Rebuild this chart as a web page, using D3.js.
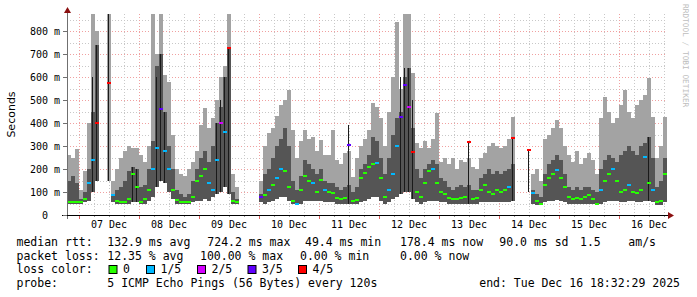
<!DOCTYPE html>
<html>
<head>
<meta charset="utf-8">
<script src="https://cdn.jsdelivr.net/npm/d3@7"></script>
<style>
  body { margin: 0; background: #fff; }
  text { font-family: "DejaVu Sans Mono", monospace; fill: #000; }
</style>
</head>
<body>
<svg id="chart" width="697" height="297"></svg>
<script>
// one column = 96 minutes, first column starts Dec 6 19:12 (UTC used as local clock)
// rows: Dec 6 (3 cols), Dec 7 .. Dec 15 (15 cols each), Dec 16 (12 cols); null = no data
const lo = [
  50, 50, 50,
  50, 55, 60, 100, 150, null, null, 150, 55, 50, 50, 50, 50, 55, 55,
  50, 50, 60, 80, 120, 150, 140, 100, 70, 50, 50, 50, 50, 55, 60,
  60, 70, 60, 80, 90, 100, 120, 90, 50, 50, null, null, null, null, null,
  55, 50, 55, 60, 70, 80, 80, 60, 50, 45, 50, 60, 60, 60, 60,
  60, 55, 55, 55, 50, 50, 50, 50, 50, 50, 55, 60, 70, 80, 80,
  60, 50, 55, 70, 80, 90, 100, 100, 70, 55, 50, 55, 60, 60, 60,
  55, 55, 50, 50, 50, 50, 50, 50, 50, 50, 55, 55, 55, 55, 55,
  55, 55, 55, 60, null, null, null, 100, 50, 45, 45, 55, 60, 60, 65,
  60, 55, 50, 50, 50, 50, 50, 50, 50, 45, 50, 55, 60, 60, 60,
  55, 55, 60, 60, 55, 55, 60, 60, 55, 45, 45, 55
];
// top of the dark smoke band (ms)
const dk = [
  150, 170, 140,
  70, 100, 200, 450, 740, null, null, 150, 90, 110, 120, 150, 190, 210, 200,
  120, 130, 200, 320, 650, 700, 450, 300, 200, 110, 90, 80, 90, 150, 200,
  250, 280, 230, 300, 400, 470, 600, 725, 100, 70, null, null, null, null, null,
  90, 180, 200, 250, 300, 330, 380, 300, 150, 110, 170, 240, 220, 200, 180,
  200, 150, 140, 140, 120, 110, 120, 130, 100, 120, 200, 220, 260, 340, 320,
  250, 180, 250, 350, 420, 450, 600, 640, 380, 200, 160, 200, 220, 240, 220,
  160, 150, 120, 110, 120, 130, 120, 130, 110, 110, 160, 180, 200, 180, 190,
  180, 190, 200, 220, null, null, null, 100, 110, 90, 80, 180, 220, 240, 260,
  240, 180, 120, 110, 120, 110, 120, 120, 110, 100, 200, 240, 260, 250, 230,
  260, 280, 300, 280, 260, 300, 313, 340, 250, 120, 150, 250
];
// top of the light smoke band (ms)
const hi = [
  260, 250, 285,
  110, 190, 400, 875, 800, null, null, 875, 150, 200, 250, 280, 300, 290, 290,
  260, 230, 300, 875, 700, 875, 610, 580, 350, 200, 180, 170, 200, 230, 280,
  390, 465, 380, 420, 500, 600, 650, 875, 180, 120, null, null, null, null, null,
  150, 300, 357, 380, 430, 480, 500, 545, 370, 250, 320, 370, 330, 340, 280,
  326, 260, 260, 370, 240, 220, 270, 280, 165, 250, 300, 330, 370, 487, 470,
  420, 300, 450, 600, 840, 550, 875, 875, 617, 313, 290, 320, 290, 330, 443,
  230, 250, 220, 250, 200, 240, 230, 250, 210, 200, 250, 270, 300, 313, 300,
  290, 300, 330, 426, null, null, null, 100, 180, 200, 150, 330, 350, 380, 413,
  380, 300, 260, 230, 280, 220, 250, 270, 240, 180, 420, 513, 450, 400, 420,
  480, 543, 450, 420, 480, 500, 520, 596, 426, 250, 300, 426
];
// median rtt (ms)
const med = [
  55, 55, 58,
  55, 70, 140, 240, 400, null, null, 575, 85, 60, 55, 55, 70, 180, 120,
  55, 70, 110, 200, 290, 460, 280, 200, 110, 65, 55, 55, 55, 80, 150,
  170, 200, 140, 110, 240, 400, 360, 725, 60, 55, null, null, null, null, null,
  80, 85, 110, 130, 160, 200, 190, 120, 60, 50, 110, 170, 150, 140, 100,
  152, 110, 100, 95, 74, 68, 72, 304, 60, 65, 160, 182, 209, 220, 225,
  160, 80, 110, 180, 300, 426, 565, 470, 274, 100, 80, 140, 190, 200, 140,
  100, 90, 75, 70, 68, 75, 80, 317, 70, 75, 110, 130, 100, 90, 110,
  100, 110, 120, 335, null, null, null, 283, 96, 60, 50, 130, 160, 180, 195,
  160, 122, 80, 70, 75, 70, 80, 85, 70, 50, 110, 150, 180, 200, 150,
  100, 110, 130, 100, 95, 110, 252, 140, 110, 55, 60, 180
];
// lost pings out of 5
const loss = [
  0, 0, 0,
  0, 0, 1, 1, 4, null, null, 4, 1, 0, 0, 0, 0, 0, 0,
  0, 0, 0, 1, 1, 3, 1, 1, 0, 0, 0, 0, 0, 0, 0,
  0, 0, 1, 1, 1, 2, 1, 4, 0, 0, null, null, null, null, null,
  3, 0, 1, 0, 1, 1, 0, 0, 0, 1, 0, 0, 0, 1, 0,
  0, 1, 0, 0, 0, 0, 0, 3, 0, 0, 0, 0, 0, 0, 1,
  0, 0, 1, 1, 1, 3, 3, 2, 4, 0, 0, 0, 0, 1, 0,
  0, 0, 0, 0, 0, 0, 0, 4, 0, 0, 0, 0, 0, 0, 0,
  0, 0, 1, 4, null, null, null, 4, 1, 0, 0, 0, 0, 0, 1,
  0, 0, 0, 0, 0, 0, 0, 0, 0, 0, 1, 0, 0, 1, 0,
  0, 0, 1, 0, 0, 0, 1, 0, 1, 0, 0, 0
];
// top of the black streak (0 = none)
const core = [
  0, 0, 0,
  0, 0, 0, 600, 740, 0, 0, 875, 0, 0, 0, 0, 0, 210, 200,
  0, 0, 0, 0, 600, 700, 450, 0, 0, 0, 0, 0, 0, 0, 0,
  0, 0, 0, 0, 400, 500, 600, 725, 0, 0, 0, 0, 0, 0, 0,
  0, 0, 0, 0, 0, 0, 0, 0, 0, 0, 0, 0, 0, 0, 0,
  0, 0, 0, 0, 0, 0, 0, 390, 0, 0, 0, 0, 0, 0, 0,
  0, 0, 0, 0, 0, 600, 640, 640, 500, 0, 0, 0, 0, 0, 0,
  0, 0, 0, 0, 0, 0, 0, 317, 0, 0, 0, 0, 0, 0, 0,
  0, 0, 0, 335, 0, 0, 0, 283, 0, 0, 0, 0, 0, 0, 0,
  0, 0, 0, 0, 0, 0, 0, 0, 0, 0, 0, 0, 0, 0, 0,
  0, 0, 0, 0, 0, 0, 0, 340, 0, 0, 0, 0
];

const lossLabels = ["0", "1/5", "2/5", "3/5", "4/5"];
const lossColors = ["#26ff00", "#00b8ff", "#d400ff", "#6000ff", "#ff0000"];
const yTicks = [0, 100, 200, 300, 400, 500, 600, 700, 800];
const dayLabels = ["07 Dec", "08 Dec", "09 Dec", "10 Dec", "11 Dec", "12 Dec", "13 Dec", "14 Dec", "15 Dec", "16 Dec"];

const statsRtt = ["132.9 ms avg", "724.2 ms max", "49.4 ms min", "178.4 ms now", "90.0 ms sd", "1.5", "am/s"];
const statsLoss = ["12.35 % avg", "100.00 % max", "0.00 % min", "0.00 % now"];
const probeText = "5 ICMP Echo Pings (56 Bytes) every 120s";
const endText = "end: Tue Dec 16 18:32:29 2025";

const svg = d3.select("#chart");

const t0 = Date.UTC(2025, 11, 6, 19, 12);
const step = 96 * 60 * 1000;
const xScale = d3.scaleUtc()
  .domain([new Date(t0), new Date(t0 + 150 * step)])
  .range([67, 667]);
const yScale = d3.scaleLinear().domain([0, 875]).range([215, 13.75]);

const data = d3.range(lo.length).map(function (i) {
  return { t: new Date(t0 + i * step), lo: lo[i], dk: dk[i], hi: hi[i], med: med[i], loss: loss[i], core: core[i] };
}).filter(d => d.med != null);

const px = v => Math.round(v) + 0.5;

// grid
const grid = svg.append("g").attr("shape-rendering", "crispEdges");
d3.range(50, 851, 50).forEach(function (v) {
  grid.append("line")
    .attr("x1", 67).attr("x2", 667)
    .attr("y1", px(yScale(v))).attr("y2", px(yScale(v)))
    .attr("stroke", v % 100 === 0 ? "#f0a0a0" : "#c8c8c8")
    .attr("stroke-dasharray", "1,2");
});
const gridTimes = d3.utcHour.every(6).range(new Date(t0), new Date(t0 + 150 * step));
gridTimes.forEach(function (t) {
  const major = t.getUTCHours() === 0;
  const gx = px(xScale(t));
  grid.append("line")
    .attr("x1", gx).attr("x2", gx)
    .attr("y1", 14).attr("y2", 215)
    .attr("stroke", major ? "#f0a0a0" : "#c8c8c8")
    .attr("stroke-dasharray", "1,2");
  grid.append("line")
    .attr("x1", gx).attr("x2", gx)
    .attr("y1", 215).attr("y2", major ? 219 : 217)
    .attr("stroke", major ? "#e06060" : "#999");
});

// smoke
const colW = xScale(new Date(t0 + step)) - xScale(new Date(t0));
const smoke = svg.append("g").attr("shape-rendering", "crispEdges");
smoke.selectAll("rect.light").data(data).enter().append("rect")
  .attr("class", "light")
  .attr("x", d => xScale(d.t)).attr("width", colW)
  .attr("y", d => yScale(d.hi))
  .attr("height", d => yScale(d.lo) - yScale(d.hi))
  .attr("fill", "#a3a3a3");
smoke.selectAll("rect.dark").data(data).enter().append("rect")
  .attr("class", "dark")
  .attr("x", d => xScale(d.t)).attr("width", colW)
  .attr("y", d => yScale(d.dk))
  .attr("height", d => yScale(d.lo) - yScale(d.dk))
  .attr("fill", "#555555");
smoke.selectAll("rect.core").data(data.filter(d => d.core > 0)).enter().append("rect")
  .attr("class", "core")
  .attr("x", d => xScale(d.t) + 1).attr("width", 1)
  .attr("y", d => yScale(d.core))
  .attr("height", d => yScale(d.lo) - yScale(d.core))
  .attr("fill", "#1a1a1a");

// median, coloured by loss
smoke.selectAll("rect.med").data(data).enter().append("rect")
  .attr("class", "med")
  .attr("x", d => xScale(d.t)).attr("width", colW)
  .attr("y", d => Math.round(yScale(d.med)) - 1)
  .attr("height", 2)
  .attr("fill", d => lossColors[d.loss]);

// axes
const axes = svg.append("g").attr("shape-rendering", "crispEdges");
axes.append("line").attr("x1", 67.5).attr("x2", 67.5).attr("y1", 12).attr("y2", 219).attr("stroke", "#707070");
axes.append("line").attr("x1", 62).attr("x2", 669).attr("y1", 215.5).attr("y2", 215.5).attr("stroke", "#000");
svg.append("path").attr("d", "M67.5,7 L64,13 L71,13 Z").attr("fill", "#8b1010");
svg.append("path").attr("d", "M674,215.5 L668,212 L668,219 Z").attr("fill", "#8b1010");

yTicks.forEach(function (v) {
  const ty = px(yScale(v));
  axes.append("line").attr("x1", 63).attr("x2", 67).attr("y1", ty).attr("y2", ty).attr("stroke", "#707070");
  svg.append("text")
    .attr("x", v === 0 ? 48 : 60)
    .attr("y", yScale(v) + 3.5)
    .attr("text-anchor", "end")
    .style("font-size", "10px")
    .text(v === 0 ? "0" : v + " m");
});

dayLabels.forEach(function (lab, i) {
  const noon = new Date(Date.UTC(2025, 11, 7 + i, 12));
  svg.append("text")
    .attr("x", xScale(noon))
    .attr("y", 228)
    .attr("text-anchor", "middle")
    .style("font-size", "10px")
    .text(lab);
});

svg.append("text")
  .attr("transform", "translate(15,114.5) rotate(-90)")
  .attr("text-anchor", "middle")
  .style("font-family", "'DejaVu Sans', sans-serif")
  .style("font-size", "11px")
  .text("Seconds");

svg.append("text")
  .attr("transform", "translate(683,4) rotate(90)")
  .style("font-size", "7.8px")
  .style("fill", "#bdbdbd")
  .text("RRDTOOL / TOBI OETIKER");

// legend
const leg = svg.append("g").style("font-size", "11.5px");
const row = [246, 259.5, 273, 286.5];
leg.append("text").attr("x", 16.5).attr("y", row[0]).text("median rtt:");
[107.3, 207.3, 305, 400, 499.3, 580, 628.3].forEach(function (lx, i) {
  leg.append("text").attr("x", lx).attr("y", row[0]).text(statsRtt[i]);
});
leg.append("text").attr("x", 16.5).attr("y", row[1]).text("packet loss:");
[107.3, 200, 300, 400].forEach(function (lx, i) {
  leg.append("text").attr("x", lx).attr("y", row[1]).text(statsLoss[i]);
});
leg.append("text").attr("x", 16.5).attr("y", row[2]).text("loss color:");
[108.5, 146, 197, 247.5, 298].forEach(function (lx, i) {
  leg.append("rect")
    .attr("x", lx + 0.5).attr("y", 265.5)
    .attr("width", 8).attr("height", 8)
    .attr("fill", lossColors[i]).attr("stroke", "#000");
  leg.append("text").attr("x", lx + 14.5).attr("y", row[2]).text(lossLabels[i]);
});
leg.append("text").attr("x", 16.5).attr("y", row[3]).text("probe:");
leg.append("text").attr("x", 107.3).attr("y", row[3]).text(probeText);
leg.append("text").attr("x", 680).attr("y", row[3]).attr("text-anchor", "end").text(endText);
</script>
</body>
</html>
